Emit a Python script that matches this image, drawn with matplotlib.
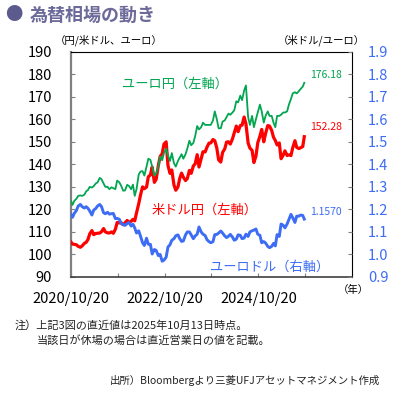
import numpy as np
import pandas as pd
import matplotlib
matplotlib.use('Agg')
import matplotlib.pyplot as plt

plt.rcParams['font.family'] = ['Noto Sans CJK JP', 'DejaVu Sans']

# semi-monthly readings (1st and 15th), plus first and last day
dates = ([pd.Timestamp('2020-10-20')]
         + list(pd.date_range('2020-11-01', '2025-10-01', freq='SMS'))
         + [pd.Timestamp('2025-10-13')])

usdjpy = [105.5,
          104.6, 104.5, 104.3, 103.6,
          103.2, 103.8, 104.9, 105.4, 106.6, 109.1, 110.6, 108.8, 109.3, 109.4, 109.5, 110.1,
          111.5, 110.0, 109.6, 109.5, 110.0, 109.4, 111.2, 114.2, 114.0, 114.1, 113.2, 114.0,
          115.1, 114.2, 114.7, 115.6, 114.9, 118.5, 122.5, 126.4, 130.0, 129.2, 129.9, 134.5,
          135.3, 138.8, 132.0, 133.3, 139.5, 143.5, 144.7, 149.0, 150.0, 139.5, 136.0, 137.5,
          130.8, 128.5, 130.0, 133.8, 136.1, 134.3, 132.8, 133.7, 137.3, 136.0, 139.3, 140.2,
          144.3, 138.8, 142.5, 145.6, 145.5, 147.6, 149.4, 149.5, 151.0, 150.5, 147.2, 142.0,
          141.0, 145.3, 146.9, 149.9, 150.0, 149.0, 151.3, 154.0, 157.0, 154.5, 157.2, 157.4,
          161.0, 158.0, 149.5, 147.2, 146.2, 140.8, 143.6, 149.5, 152.5, 155.5, 150.0, 153.6,
          157.2, 157.0, 155.0, 152.0, 150.6, 148.6, 149.5, 142.5, 144.0, 146.0, 143.9, 144.2,
          143.9, 147.4, 150.5, 147.5, 147.0, 147.4, 147.9,
          152.28]

eurjpy = [123.8,
          122.0, 123.8, 124.7, 126.0,
          126.2, 126.0, 126.5, 128.0, 128.6, 130.0, 129.7, 130.3, 131.5, 132.0, 134.0, 133.4,
          131.5, 130.0, 130.0, 129.0, 129.8, 129.4, 129.0, 132.8, 132.0, 130.5, 128.3, 128.4,
          130.9, 130.4, 129.0, 131.0, 126.0, 129.0, 135.5, 136.8, 137.0, 135.0, 139.0, 142.5,
          142.0, 139.0, 135.0, 136.0, 139.0, 143.5, 141.8, 145.0, 147.0, 144.0, 141.5, 145.0,
          140.5, 139.0, 141.5, 143.0, 144.5, 142.5, 144.5, 147.0, 150.5, 148.5, 149.5, 152.5,
          157.0, 155.5, 156.5, 158.5, 157.5, 157.5, 157.5, 157.5, 159.5, 163.5, 160.0, 156.0,
          156.0, 159.0, 159.5, 161.0, 162.5, 162.0, 163.0, 164.0, 168.0, 167.5, 170.5, 168.5,
          172.8, 175.0, 161.0, 157.5, 161.5, 156.5, 160.0, 163.0, 166.5, 163.5, 158.5, 161.5,
          163.5, 161.5, 161.5, 158.5, 156.5, 161.5, 161.5, 162.0, 163.0, 163.0, 163.5, 166.5,
          169.0, 171.5, 172.0, 171.5, 172.5, 173.5, 174.5,
          176.18]

eurusd = [1.178,
          1.165, 1.183, 1.195, 1.215,
          1.222, 1.212, 1.206, 1.212, 1.205, 1.193, 1.175, 1.197, 1.204, 1.215, 1.222, 1.212,
          1.185, 1.181, 1.187, 1.179, 1.181, 1.182, 1.159, 1.160, 1.156, 1.137, 1.133, 1.129,
          1.137, 1.142, 1.126, 1.134, 1.118, 1.095, 1.105, 1.081, 1.052, 1.040, 1.072, 1.045,
          1.045, 1.002, 1.022, 1.018, 0.995, 1.000, 0.970, 0.975, 0.988, 1.033, 1.043, 1.063,
          1.070, 1.083, 1.087, 1.070, 1.058, 1.060, 1.087, 1.100, 1.100, 1.087, 1.070, 1.082,
          1.090, 1.122, 1.100, 1.090, 1.084, 1.066, 1.057, 1.052, 1.057, 1.088, 1.089, 1.095,
          1.104, 1.095, 1.082, 1.075, 1.081, 1.089, 1.077, 1.063, 1.068, 1.087, 1.085, 1.070,
          1.073, 1.090, 1.080, 1.100, 1.105, 1.108, 1.113, 1.090, 1.085, 1.052, 1.057, 1.051,
          1.036, 1.030, 1.036, 1.049, 1.038, 1.088, 1.080, 1.135, 1.130, 1.118, 1.135, 1.155,
          1.178, 1.163, 1.142, 1.170, 1.170, 1.175, 1.173,
          1.157]

assert len(dates) == len(usdjpy) == len(eurjpy) == len(eurusd)

left_ticks = [90, 100, 110, 120, 130, 140, 150, 160, 170, 180, 190]
right_ticks = [0.9, 1.0, 1.1, 1.2, 1.3, 1.4, 1.5, 1.6, 1.7, 1.8, 1.9]
x_ticks = ['2020-10-20', '2021-10-20', '2022-10-20', '2023-10-20',
           '2024-10-20', '2025-10-20', '2026-10-20']
x_labels = ['2020/10/20', '', '2022/10/20', '', '2024/10/20', '', '']

green = '#00a650'
red = '#ff0000'
blue = '#3d6cf5'
gray = '#808080'

fig = plt.figure(figsize=(3.94, 3.97), dpi=100)
ax = fig.add_axes([0.1802, 0.3023, 0.7132, 0.5675])
ax2 = ax.twinx()

ax.plot(dates, usdjpy, color=red, lw=2.3, zorder=3)
ax.plot(dates, eurjpy, color=green, lw=1.3, zorder=4)
ax2.plot(dates, eurusd, color=blue, lw=2.1)

ax.set_xlim(pd.Timestamp('2020-10-20'), pd.Timestamp('2026-10-20'))
ax.set_ylim(90, 190)
ax2.set_ylim(0.9, 1.9)

ax.set_yticks(left_ticks)
ax.set_yticklabels([str(t) for t in left_ticks])
ax2.set_yticks(right_ticks)
ax2.set_yticklabels(['%.1f' % t for t in right_ticks])
ax.set_xticks([pd.Timestamp(d) for d in x_ticks])
ax.set_xticklabels(x_labels)

ax.tick_params(axis='y', direction='in', length=3, color=gray, labelsize=10.5, pad=13.5)
ax.tick_params(axis='x', direction='in', length=3, color=gray, labelsize=10.5, pad=11)
ax2.tick_params(axis='y', direction='in', length=3, color=gray, labelsize=10.5,
                pad=11.5, labelcolor=blue)

for s in ax2.spines.values():
    s.set_visible(False)
ax.spines['left'].set_color(gray)
ax.spines['left'].set_linewidth(1.6)
ax.spines['bottom'].set_color('#404040')
ax.spines['bottom'].set_linewidth(1.2)
ax.spines['top'].set_linewidth(0.8)
ax.spines['right'].set_linewidth(0.8)

# end values
ax.annotate('%.2f' % eurjpy[-1], xy=(dates[-1], eurjpy[-1]), xytext=(6, 8),
            textcoords='offset pixels', color=green, fontsize=7.5, va='center')
ax.annotate('%.2f' % usdjpy[-1], xy=(dates[-1], usdjpy[-1]), xytext=(6, 10),
            textcoords='offset pixels', color=red, fontsize=7.5, va='center')
ax2.annotate('%.4f' % eurusd[-1], xy=(dates[-1], eurusd[-1]), xytext=(6, 7),
             textcoords='offset pixels', color=blue, fontsize=7.5, va='center')

# series names
ax.text(0.370, 0.857, 'ユーロ円（左軸）', transform=ax.transAxes, color=green,
        fontsize=9.5, ha='center', va='center')
ax.text(0.477, 0.297, '米ドル円（左軸）', transform=ax.transAxes, color=red,
        fontsize=9.5, ha='center', va='center')
ax.text(0.708, 0.044, 'ユーロドル（右軸）', transform=ax.transAxes, color=blue,
        fontsize=9.5, ha='center', va='center', zorder=6)

# title and notes
fig.text(5 / 394, 1 - 15 / 397, '●', color='#5d5b8e', fontsize=12.5, va='center')
fig.text(30 / 394, 1 - 15 / 397, '為替相場の動き', color='#6b6a99', fontsize=13,
         fontweight='bold', va='center')
fig.text(55 / 394, 1 - 40 / 397, '（円/米ドル、ユーロ）', fontsize=7.5, va='center')
fig.text(278 / 394, 1 - 40 / 397, '（米ドル/ユーロ）', fontsize=7.5, va='center')
fig.text(338 / 394, 1 - 290 / 397, '（年）', fontsize=7.5, va='center')
fig.text(15 / 394, 1 - 325 / 397, '注）上記3図の直近値は2025年10月13日時点。',
         fontsize=8, va='center', color='#222222')
fig.text(37 / 394, 1 - 340 / 397, '当該日が休場の場合は直近営業日の値を記載。',
         fontsize=8, va='center', color='#222222')
fig.text(380 / 394, 1 - 380 / 397, '出所）Bloombergより三菱UFJアセットマネジメント作成',
         fontsize=7.5, va='center', ha='right', color='#222222')

fig.savefig('out.png', dpi=100)
